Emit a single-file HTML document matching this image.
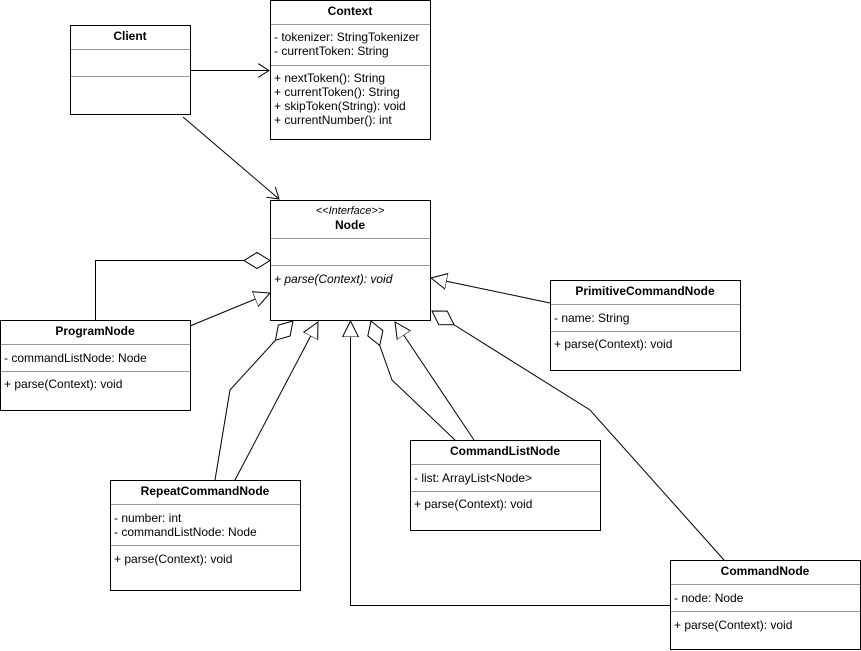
<!DOCTYPE html>
<html><head><meta charset="utf-8"><style>
html,body{margin:0;padding:0;background:#fff;}
svg{display:block;}
text{font-family:"Liberation Sans",Arial,sans-serif;font-size:12px;fill:#000;}
.b{font-weight:bold;}
.box{fill:#fff;stroke:#000;stroke-width:1;}
.sep{stroke:#999;stroke-width:1;}
.ln{fill:none;stroke:#000;stroke-width:1;}
</style></head><body>
<svg width="861" height="651" viewBox="0 0 861 651" xmlns="http://www.w3.org/2000/svg">
<defs>
<marker id="dia" markerUnits="userSpaceOnUse" markerWidth="28" markerHeight="18" refX="26" refY="9" orient="auto"><path d="M0,9 L13,1 L26,9 L13,17 Z" fill="#fff" stroke="#000"/></marker>
<marker id="tri" markerUnits="userSpaceOnUse" markerWidth="18" markerHeight="18" refX="16" refY="9" orient="auto"><path d="M0,1 L16,9 L0,17 Z" fill="#fff" stroke="#000"/></marker>
<marker id="arr" markerUnits="userSpaceOnUse" markerWidth="12" markerHeight="14" refX="11" refY="7" orient="auto"><path d="M0,0 L11,7 L0,14" fill="none" stroke="#000"/></marker>
</defs>

<line class="ln" x1="190" y1="70.5" x2="269" y2="70.5" marker-end="url(#arr)"/>
<line class="ln" x1="183" y1="117" x2="279" y2="199" marker-end="url(#arr)"/>
<polyline class="ln" points="95.5,320 95.5,260.5 270,260.5" marker-end="url(#dia)"/>
<line class="ln" x1="190" y1="326" x2="270" y2="293" marker-end="url(#tri)"/>
<line class="ln" x1="550" y1="303" x2="431" y2="278" marker-end="url(#tri)"/>
<polyline class="ln" points="215,480 230,390 293,321" marker-end="url(#dia)"/>
<line class="ln" x1="235" y1="480" x2="318" y2="322" marker-end="url(#tri)"/>
<polyline class="ln" points="670,605.5 350.5,605.5 350.5,321" marker-end="url(#tri)"/>
<polyline class="ln" points="455,440 392,380 371,321" marker-end="url(#dia)"/>
<line class="ln" x1="474" y1="440" x2="395" y2="322" marker-end="url(#tri)"/>
<polyline class="ln" points="724,560 590,410 432,311" marker-end="url(#dia)"/>

<rect class="box" x="70.5" y="25.5" width="120" height="89"/>
<text class="b" x="130" y="40" text-anchor="middle">Client</text>
<line class="sep" x1="71" y1="49.5" x2="190" y2="49.5"/>
<line class="sep" x1="71" y1="76.5" x2="190" y2="76.5"/>

<rect class="box" x="270.5" y="0.5" width="160" height="139"/>
<text class="b" x="350" y="15" text-anchor="middle">Context</text>
<line class="sep" x1="271" y1="24.5" x2="430" y2="24.5"/>
<text x="274" y="41">- tokenizer: StringTokenizer</text>
<text x="274" y="55">- currentToken: String</text>
<line class="sep" x1="271" y1="65.5" x2="430" y2="65.5"/>
<text x="274" y="82">+ nextToken(): String</text>
<text x="274" y="96">+ currentToken(): String</text>
<text x="274" y="110">+ skipToken(String): void</text>
<text x="274" y="124">+ currentNumber(): int</text>

<rect class="box" x="270.5" y="200.5" width="160" height="120"/>
<text x="350" y="214" text-anchor="middle" font-style="italic" style="font-size:11px">&lt;&lt;Interface&gt;&gt;</text>
<text class="b" x="350" y="229" text-anchor="middle">Node</text>
<line class="sep" x1="271" y1="238.5" x2="430" y2="238.5"/>
<line class="sep" x1="271" y1="265.5" x2="430" y2="265.5"/>
<text x="274" y="283" font-style="italic">+ parse(Context): void</text>

<rect class="box" x="550.5" y="280.5" width="190" height="90"/>
<text class="b" x="645" y="295" text-anchor="middle">PrimitiveCommandNode</text>
<line class="sep" x1="551" y1="304.5" x2="740" y2="304.5"/>
<text x="554" y="322">- name: String</text>
<line class="sep" x1="551" y1="331.5" x2="740" y2="331.5"/>
<text x="554" y="348">+ parse(Context): void</text>

<rect class="box" x="0.5" y="320.5" width="190" height="90"/>
<text class="b" x="95" y="335" text-anchor="middle">ProgramNode</text>
<line class="sep" x1="1" y1="344.5" x2="190" y2="344.5"/>
<text x="4" y="362">- commandListNode: Node</text>
<line class="sep" x1="1" y1="371.5" x2="190" y2="371.5"/>
<text x="4" y="388">+ parse(Context): void</text>

<rect class="box" x="410.5" y="440.5" width="190" height="90"/>
<text class="b" x="505" y="455" text-anchor="middle">CommandListNode</text>
<line class="sep" x1="411" y1="464.5" x2="600" y2="464.5"/>
<text x="414" y="482">- list: ArrayList&lt;Node&gt;</text>
<line class="sep" x1="411" y1="491.5" x2="600" y2="491.5"/>
<text x="414" y="508">+ parse(Context): void</text>

<rect class="box" x="110.5" y="480.5" width="190" height="110"/>
<text class="b" x="205" y="495" text-anchor="middle">RepeatCommandNode</text>
<line class="sep" x1="111" y1="504.5" x2="300" y2="504.5"/>
<text x="114" y="522">- number: int</text>
<text x="114" y="536">- commandListNode: Node</text>
<line class="sep" x1="111" y1="545.5" x2="300" y2="545.5"/>
<text x="114" y="563">+ parse(Context): void</text>

<rect class="box" x="670.5" y="560.5" width="190" height="89"/>
<text class="b" x="765" y="575" text-anchor="middle">CommandNode</text>
<line class="sep" x1="671" y1="584.5" x2="860" y2="584.5"/>
<text x="674" y="602">- node: Node</text>
<line class="sep" x1="671" y1="611.5" x2="860" y2="611.5"/>
<text x="674" y="629">+ parse(Context): void</text>
</svg>
</body></html>
